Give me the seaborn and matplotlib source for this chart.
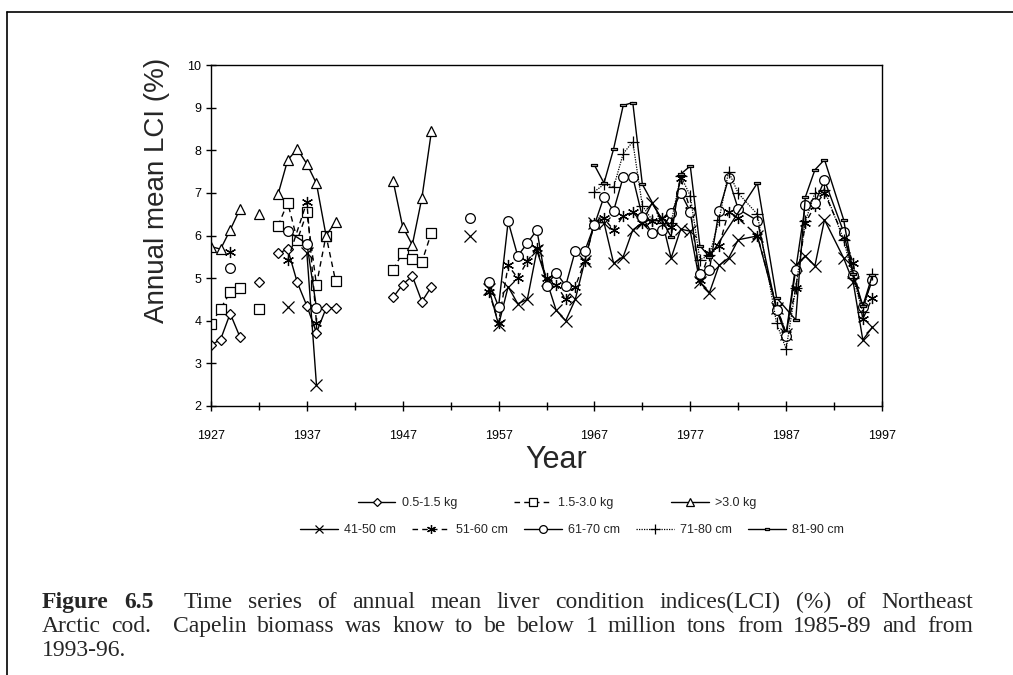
import numpy as np
import pandas as pd
import matplotlib
matplotlib.use('Agg')
import matplotlib.pyplot as plt
import seaborn as sns
from matplotlib.lines import Line2D

nan = np.nan

# weight classes (1927-1950), nan breaks the line
kg_years = [1927, 1928, 1929, 1930, 1931, 1932, 1933, 1934, 1935, 1936, 1937, 1938, 1939, 1940,
            1941, 1946, 1947, 1948, 1949, 1950]
kg_05_15 = [3.43, 3.56, 4.17, 3.63, nan, 4.90, nan, 5.58, 5.68, 4.90, 4.35, 3.72, 4.29, 4.31,
            nan, 4.55, 4.85, 5.05, 4.45, 4.80]
kg_15_30 = [3.92, 4.28, 4.67, 4.78, nan, 4.28, nan, 6.23, 6.77, 5.89, 6.54, 4.84, 6.00, 4.93,
            nan, 5.20, 5.60, 5.45, 5.38, 6.07]
kg_30 = [5.74, 5.68, 6.13, 6.61, nan, 6.50, nan, 6.97, 7.77, 8.03, 7.68, 7.22, 6.00, 6.32,
         nan, 7.28, 6.20, 5.78, 6.88, 8.45]

# length classes
cm_41_50_years = [1935, 1936, 1937, 1938, 1939, 1954, 1955,
                  1956, 1957, 1958, 1959, 1960, 1961, 1962, 1963, 1964, 1965, 1966, 1967, 1968,
                  1969, 1970, 1971, 1972, 1973, 1974, 1975, 1976, 1977, 1978, 1979, 1980, 1981,
                  1982, 1984, 1986, 1987, 1988, 1989, 1990, 1991, 1993, 1994, 1995, 1996]
cm_41_50 = [4.33, nan, 5.60, 2.50, nan, 6.00, nan,
            4.75, 3.90, 4.80, 4.40, 4.50, 5.65, 4.95, 4.25, 4.00, 4.50, 5.40, 6.30, 6.30,
            5.35, 5.50, 6.13, 6.30, 6.76, 6.40, 5.47, 6.15, 6.10, 4.90, 4.66, 5.30, 5.47,
            5.90, 5.99, 4.30, 3.70, 5.30, 5.52, 5.29, 6.37, 5.47, 4.90, 3.55, 3.85]

cm_51_60_years = [1929, 1930, 1935, 1937, 1938, 1939,
                  1956, 1957, 1958, 1959, 1960, 1961, 1962, 1963, 1964, 1965, 1966, 1967, 1968,
                  1969, 1970, 1971, 1972, 1973, 1974, 1975, 1976, 1977, 1978, 1979, 1980, 1981,
                  1982, 1984, 1986, 1987, 1988, 1989, 1990, 1991, 1993, 1994, 1995, 1996]
cm_51_60 = [5.62, nan, 5.42, 6.79, 3.95, nan,
            4.68, 3.95, 5.30, 5.00, 5.40, 5.70, 5.00, 4.85, 4.50, 4.80, 5.40, 6.30, 6.40,
            6.13, 6.46, 6.55, 6.30, 6.35, 6.42, 6.20, 7.35, 6.60, 4.95, 5.60, 5.75, 6.56,
            6.40, 6.00, 4.33, 3.70, 4.76, 6.29, 6.70, 7.00, 5.97, 5.35, 4.04, 4.54]

cm_61_70_years = [1929, 1930, 1935, 1937, 1938, 1939, 1954, 1955,
                  1956, 1957, 1958, 1959, 1960, 1961, 1962, 1963, 1964, 1965, 1966, 1967, 1968,
                  1969, 1970, 1971, 1972, 1973, 1974, 1975, 1976, 1977, 1978, 1979, 1980, 1981,
                  1982, 1984, 1986, 1987, 1988, 1989, 1990, 1991, 1993, 1994, 1995, 1996]
cm_61_70 = [5.23, nan, 6.10, 5.81, 4.31, nan, 6.42, nan,
            4.90, 4.33, 6.33, 5.52, 5.82, 6.13, 4.82, 5.13, 4.82, 5.64, 5.64, 6.25, 6.91,
            6.58, 7.37, 7.37, 6.44, 6.05, 6.12, 6.52, 7.00, 6.56, 5.10, 5.20, 6.58, 7.34,
            6.62, 6.35, 4.25, 3.65, 5.20, 6.72, 6.76, 7.30, 6.08, 5.07, 4.32, 4.96]

cm_71_80_years = [1967, 1968, 1969, 1970, 1971, 1972, 1973, 1974, 1975, 1976, 1977, 1978, 1979,
                  1980, 1981, 1982, 1984, 1986, 1987, 1988, 1989, 1990, 1991, 1993, 1994, 1995, 1996]
cm_71_80 = [7.03, 7.20, 7.13, 7.92, 8.20, 6.70, 6.37, 6.30, 6.30, 7.40, 6.93, 5.43, 5.54,
            6.37, 7.50, 6.99, 6.50, 3.94, 3.34, 4.76, 6.33, 7.00, 7.07, 5.90, 5.00, 4.20, 5.10]

cm_81_90_years = [1967, 1968, 1969, 1970, 1971, 1972, 1975, 1976, 1977, 1978, 1979,
                  1984, 1986, 1988, 1989, 1990, 1991, 1993, 1994, 1995, 1996]
cm_81_90 = [7.65, 7.23, 8.03, 9.05, 9.12, 7.20, 5.97, 7.44, 7.63, 5.76, 5.50,
            7.23, 4.54, 4.02, 6.90, 7.54, 7.78, 6.37, 5.10, 4.35, 5.07]

caption_lines = [
    'Figure 6.5  Time series of annual mean liver condition indices(LCI) (%) of Northeast',
    'Arctic cod.  Capelin biomass was know to be below 1 million tons from 1985-89 and from',
    '1993-96.',
]

sns.set_theme(style='ticks')
plt.rcParams['font.family'] = ['Liberation Sans', 'DejaVu Sans']

rect_marker = [(-1.6, -0.8), (1.6, -0.8), (1.6, 0.8), (-1.6, 0.8), (-1.6, -0.8)]
asterisk = (6, 2, 0)

# label, years, values, linestyle, marker, size, facecolor, linewidth
series = [
    ('0.5-1.5 kg', kg_years, kg_05_15, '-', 'D', 5, 'white', 1.0),
    ('1.5-3.0 kg', kg_years, kg_15_30, (0, (4, 3)), 's', 7, 'white', 1.0),
    ('>3.0 kg', kg_years, kg_30, '-', '^', 7, 'white', 1.0),
    ('41-50 cm', cm_41_50_years, cm_41_50, '-', 'x', 8, 'black', 1.0),
    ('51-60 cm', cm_51_60_years, cm_51_60, (0, (4, 3)), asterisk, 8, 'black', 1.0),
    ('61-70 cm', cm_61_70_years, cm_61_70, '-', 'o', 7, 'white', 1.0),
    ('71-80 cm', cm_71_80_years, cm_71_80, (0, (1, 1)), '+', 9, 'black', 0.9),
    ('81-90 cm', cm_81_90_years, cm_81_90, '-', rect_marker, 4, '#bdbdbd', 1.0),
]

fig = plt.figure(figsize=(10.13, 6.75), dpi=100)
ax = fig.add_axes([211 / 1013, 1 - 406 / 675, 671 / 1013, 341 / 675])

for label, yrs, vals, ls, mk, ms, fc, lw in series:
    df = pd.DataFrame({'year': yrs, 'lci': vals})
    seg_id = df['lci'].isna().cumsum()
    ok = df['lci'].notna()
    for _, seg in df[ok].groupby(seg_id[ok]):
        sns.lineplot(data=seg, x='year', y='lci', ax=ax, color='black', linestyle=ls,
                     linewidth=lw, marker=mk, markersize=ms, markerfacecolor=fc,
                     markeredgecolor='black', markeredgewidth=0.9, errorbar=None,
                     legend=False, sort=True)

ax.set_xlim(1927, 1997)
ax.set_ylim(2, 10)
ax.set_xticks(range(1927, 1998, 10))
ax.set_xticks(range(1932, 1997, 10), minor=True)
ax.set_yticks(range(2, 11))
ax.tick_params(axis='both', which='major', direction='inout', length=7, width=1,
               colors='black', labelsize=9)
ax.tick_params(axis='x', which='minor', direction='inout', length=6, width=1, colors='black')
ax.tick_params(axis='x', pad=14)
for sp in ax.spines.values():
    sp.set_visible(True)
    sp.set_color('black')
    sp.set_linewidth(1)
ax.set_xlabel('')
ax.set_ylabel('')
ax.grid(False)

fig.text(157 / 1013, 1 - 190 / 675, 'Annual mean LCI (%)', rotation=90, fontsize=20,
         ha='center', va='center')
fig.text(556 / 1013, 1 - 460 / 675, 'Year', fontsize=22, ha='center', va='center')

def handle(ls, mk, ms, fc, lw):
    return Line2D([], [], color='black', linestyle=ls, linewidth=lw, marker=mk,
                  markersize=ms, markerfacecolor=fc, markeredgecolor='black',
                  markeredgewidth=0.9)

h1 = [handle(*s[3:]) for s in series[:3]]
h2 = [handle(*s[3:]) for s in series[3:]]
fig.legend(h1, [s[0] for s in series[:3]], loc='center', ncol=3,
           bbox_to_anchor=(557 / 1013, 1 - 503 / 675), frameon=False, fontsize=9,
           handlelength=3, columnspacing=4.6, handletextpad=0.5, markerscale=0.8)
fig.legend(h2, [s[0] for s in series[3:]], loc='center', ncol=5,
           bbox_to_anchor=(572 / 1013, 1 - 530 / 675), frameon=False, fontsize=9,
           handlelength=3, columnspacing=1.3, handletextpad=0.5, markerscale=0.8)

# caption, justified word by word like the printed page
serif = ['Liberation Serif', 'DejaVu Serif']
CAP_SIZE = 17
renderer = fig.canvas.get_renderer()
W = 1013.0
H = 675.0

def text_width(s, **kw):
    t = fig.text(0, 0, s, fontsize=CAP_SIZE, family=serif, **kw)
    w = t.get_window_extent(renderer).width
    t.remove()
    return w

space_w = text_width('a a') - text_width('aa')

def caption_line(text, y, x0, x1, justify, n_bold=0):
    tokens = []
    gaps = []
    for w in text.split(' '):
        if w == '':
            gaps[-1] += 1
            continue
        tokens.append(w)
        gaps.append(1)
    gaps = gaps[:-1]
    artists = [fig.text(0, 1 - y / H, w, fontsize=CAP_SIZE, family=serif, va='baseline',
                        ha='left', fontweight='bold' if i < n_bold else 'normal')
               for i, w in enumerate(tokens)]
    widths = [a.get_window_extent(renderer).width for a in artists]
    unit = (x1 - x0 - sum(widths)) / sum(gaps) if justify else space_w
    x = x0
    for i, a in enumerate(artists):
        a.set_x(x / W)
        if i < len(gaps):
            x += widths[i] + gaps[i] * unit

caption_line(caption_lines[0], 608, 42, 973, True, n_bold=2)
caption_line(caption_lines[1], 632, 42, 973, True)
caption_line(caption_lines[2], 656, 42, 973, False)

# page frame (top and left edges)
fig.add_artist(Line2D([7 / 1013, 1], [1 - 12 / 675] * 2, color='black', lw=1.2,
                      transform=fig.transFigure))
fig.add_artist(Line2D([7 / 1013] * 2, [0, 1 - 12 / 675], color='black', lw=1.2,
                      transform=fig.transFigure))

fig.savefig('out.png', dpi=100)
